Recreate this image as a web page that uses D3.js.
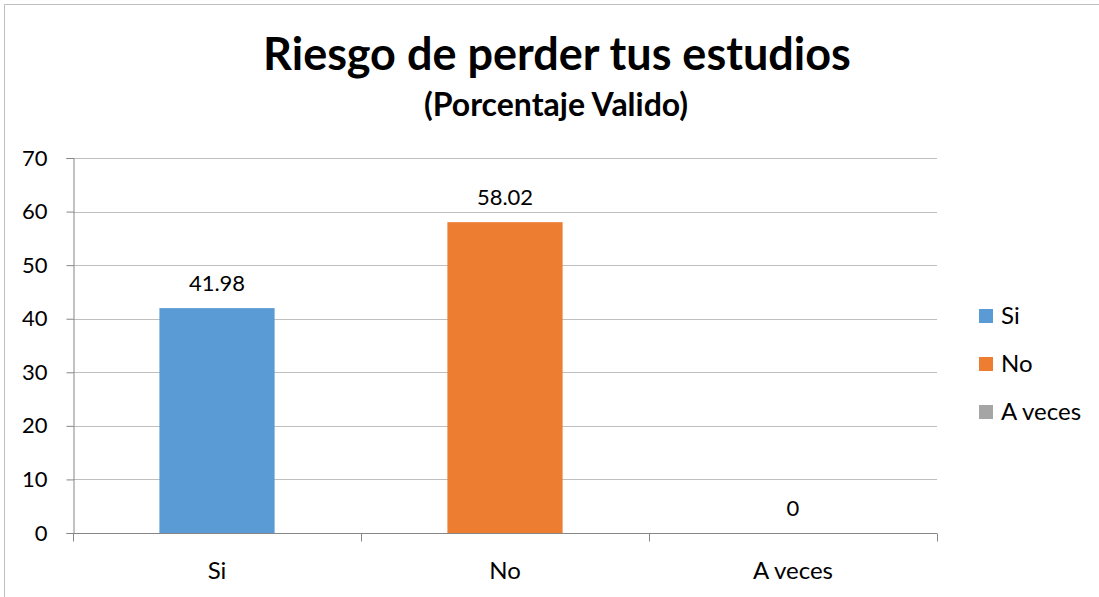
<!DOCTYPE html>
<html>
<head>
<meta charset="utf-8">
<script src="https://cdn.jsdelivr.net/npm/d3@7"></script>
<style>
  body { margin: 0; background: #fff; }
  svg { display: block; font-family: "Lato", "Open Sans", sans-serif; }
</style>
</head>
<body>
<div id="chart"></div>
<script>
var categories = ["Si", "No", "A veces"],
    values = [41.98, 58.02, 0],
    colors = ["#5B9BD5", "#ED7D31", "#A5A5A5"],
    yTicks = [0, 10, 20, 30, 40, 50, 60, 70];

var width = 1099, height = 597,
    margin = {top: 158, right: 162, bottom: 64, left: 73};

var svg = d3.select("#chart").append("svg")
    .attr("width", width)
    .attr("height", height);

// outer frame (only top and left edges visible in the shot)
svg.append("path")
    .attr("d", "M4.5,597 V4.5 H1099")
    .attr("fill", "none")
    .attr("stroke", "#bfbfbf");

var x = d3.scaleBand()
    .domain(categories)
    .range([margin.left, width - margin.right])
    .paddingInner(0.6)
    .paddingOuter(0.3);

var y = d3.scaleLinear()
    .domain([0, 70])
    .range([height - margin.bottom, margin.top]);

// gridlines
svg.append("g")
    .selectAll("line")
    .data(yTicks.filter(function(d) { return d > 0; }))
  .enter().append("line")
    .attr("x1", margin.left)
    .attr("x2", width - margin.right)
    .attr("y1", function(d) { return Math.round(y(d)) + 0.5; })
    .attr("y2", function(d) { return Math.round(y(d)) + 0.5; })
    .attr("stroke", "#bfbfbf");

// y axis
var yAxis = svg.append("g")
    .attr("transform", "translate(" + (margin.left + 0.5) + ",0)")
    .call(d3.axisLeft(y).tickValues(yTicks).tickSize(7).tickPadding(19));
yAxis.select(".domain").attr("stroke", "#868686");
yAxis.selectAll(".tick line").attr("stroke", "#868686");
yAxis.selectAll("text")
    .attr("fill", "#000")
    .style("font-size", "22px")
    .style("font-family", "Lato");

// x axis with ticks at band boundaries
var xAxisG = svg.append("g")
    .attr("transform", "translate(0," + (Math.round(y(0)) + 0.5) + ")");
xAxisG.append("line")
    .attr("x1", margin.left)
    .attr("x2", width - margin.right)
    .attr("stroke", "#868686");
var step = (width - margin.left - margin.right) / categories.length;
xAxisG.selectAll(".xt")
    .data(d3.range(categories.length + 1))
  .enter().append("line")
    .attr("class", "xt")
    .attr("x1", function(i) { return Math.round(margin.left + i * step) + 0.5; })
    .attr("x2", function(i) { return Math.round(margin.left + i * step) + 0.5; })
    .attr("y1", 0)
    .attr("y2", 8)
    .attr("stroke", "#868686");
xAxisG.selectAll(".xl")
    .data(categories)
  .enter().append("text")
    .attr("class", "xl")
    .attr("x", function(d) { return x(d) + x.bandwidth() / 2; })
    .attr("y", 45)
    .attr("text-anchor", "middle")
    .style("font-size", "24px")
    .text(function(d) { return d; });

// bars
svg.append("g")
    .selectAll("rect")
    .data(values)
  .enter().append("rect")
    .attr("x", function(d, i) { return x(categories[i]); })
    .attr("width", x.bandwidth())
    .attr("y", function(d) { return y(d); })
    .attr("height", function(d) { return y(0) - y(d); })
    .attr("fill", function(d, i) { return colors[i]; });

// data labels
svg.append("g")
    .selectAll("text")
    .data(values)
  .enter().append("text")
    .attr("x", function(d, i) { return x(categories[i]) + x.bandwidth() / 2; })
    .attr("y", function(d) { return y(d) - 17; })
    .attr("text-anchor", "middle")
    .style("font-size", "22px")
    .text(function(d) { return d === 0 ? "0" : d3.format(".2f")(d); });

// title
svg.append("text")
    .attr("x", 557)
    .attr("y", 70)
    .attr("text-anchor", "middle")
    .style("font-size", "45px")
    .style("font-weight", "bold")
    .text("Riesgo de perder tus estudios");
svg.append("text")
    .attr("x", 556)
    .attr("y", 116)
    .attr("text-anchor", "middle")
    .style("font-size", "32px")
    .style("font-weight", "bold")
    .text("(Porcentaje Valido)");

// legend
var legend = svg.append("g")
    .selectAll("g")
    .data(categories)
  .enter().append("g")
    .attr("transform", function(d, i) { return "translate(979," + (309 + i * 48) + ")"; });
legend.append("rect")
    .attr("width", 14)
    .attr("height", 14)
    .attr("fill", function(d, i) { return colors[i]; });
legend.append("text")
    .attr("x", 22)
    .attr("y", 15)
    .style("font-size", "24px")
    .text(function(d) { return d; });
</script>
</body>
</html>
